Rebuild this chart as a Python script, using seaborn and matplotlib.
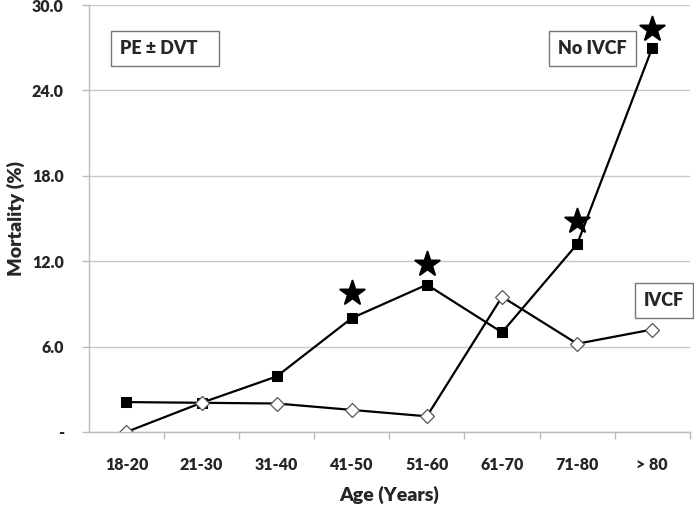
import numpy as np
import pandas as pd
import seaborn as sns
import matplotlib.pyplot as plt

# data
age_groups = ["18-20", "21-30", "31-40", "41-50", "51-60", "61-70", "71-80", "> 80"]
no_ivcf = [2.1, 2.05, 3.9, 8.0, 10.35, 7.0, 13.2, 27.0]
ivcf = [0.0, 2.05, 2.0, 1.55, 1.1, 9.5, 6.2, 7.2]
star_groups = ["41-50", "51-60", "71-80", "> 80"]
star_y = [9.8, 11.8, 14.8, 28.3]
y_ticks = [0, 6, 12, 18, 24, 30]
y_tick_labels = ["-", "6.0", "12.0", "18.0", "24.0", "30.0"]

sns.set_style("white")
plt.rcParams['font.family'] = ['Lato', 'DejaVu Sans']
W = "heavy"

df = pd.DataFrame({"age": age_groups, "No IVCF": no_ivcf, "IVCF": ivcf})
stars = pd.DataFrame({"age": star_groups, "y": star_y})

fig = plt.figure(figsize=(6.94, 5.07), dpi=100)
ax = fig.add_axes([0.128, 0.148, 0.866, 0.842])

sns.lineplot(data=df, x="age", y="No IVCF", ax=ax, color="black", lw=1.6,
             marker="s", markersize=7, markerfacecolor="black",
             markeredgecolor="black", sort=False)
sns.lineplot(data=df, x="age", y="IVCF", ax=ax, color="black", lw=1.6,
             marker="D", markersize=7, markerfacecolor="white",
             markeredgecolor="#555555", markeredgewidth=0.9, sort=False)
sns.scatterplot(data=stars, x="age", y="y", ax=ax, marker="*", s=340,
                color="black", edgecolor="black", zorder=5)

ax.set_xlim(-0.5, len(age_groups) - 0.5)
ax.set_ylim(0, 30)
ax.set_yticks(y_ticks)
ax.set_yticklabels(y_tick_labels)
ax.yaxis.grid(True, color="#c8c8c8", lw=1)
ax.set_axisbelow(True)

ax.set_xticks(range(len(age_groups)))
ax.set_xticklabels(age_groups)
ax.set_xticks(np.arange(0.5, len(age_groups), 1), minor=True)
ax.tick_params(axis="x", which="major", length=0, pad=18, labelsize=11.5)
ax.tick_params(axis="x", which="minor", length=5, color="#bbbbbb", width=1, direction="out", bottom=True)
ax.tick_params(axis="y", length=5, color="#bbbbbb", width=1, left=True, labelsize=11.5, pad=13)
for t in ax.get_xticklabels() + ax.get_yticklabels():
    t.set_fontweight(W)

for side in ["top", "right"]:
    ax.spines[side].set_visible(False)
for side in ["left", "bottom"]:
    ax.spines[side].set_color("#bbbbbb")
    ax.spines[side].set_linewidth(1)

ax.set_xlabel("Age (Years)", fontsize=14, fontweight=W, labelpad=9)
ax.set_ylabel("Mortality (%)", fontsize=14, fontweight=W, labelpad=5)

box = dict(boxstyle="square,pad=0.5", facecolor="white", edgecolor="#777777", lw=1)
ax.text(0.052, 0.899, "PE ± DVT   ", transform=ax.transAxes, fontsize=13,
        fontweight=W, va="center", ha="left", bbox=box)
ax.text(0.895, 0.899, "No IVCF", transform=ax.transAxes, fontsize=13,
        fontweight=W, va="center", ha="right", bbox=box)
ax.text(0.99, 0.307, "IVCF", transform=ax.transAxes, fontsize=13,
        fontweight=W, va="center", ha="right", bbox=box)

plt.savefig("out.png", dpi=100)
